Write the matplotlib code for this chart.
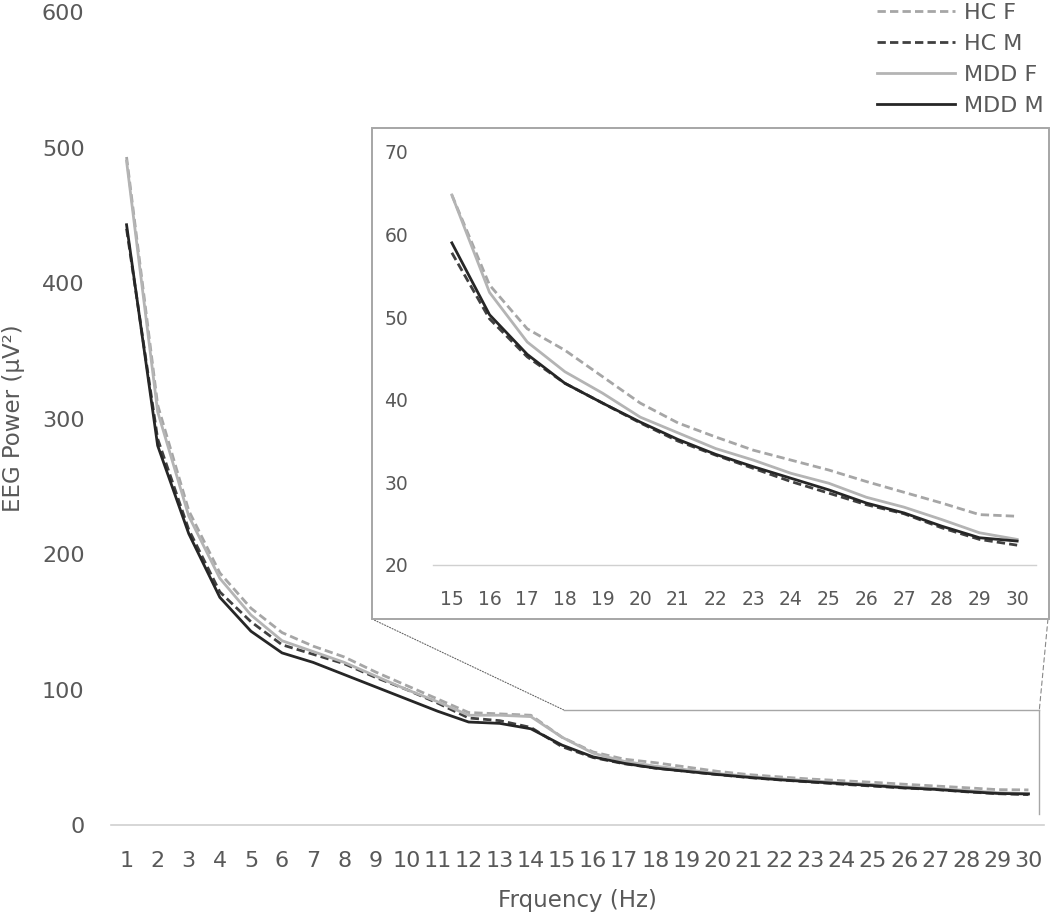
import matplotlib.pyplot as plt
from matplotlib.patches import Rectangle, ConnectionPatch

plt.rcParams["font.family"] = ["DejaVu Sans"]

W, H = 1050, 922
TXT = "#595959"

freq = list(range(1, 31))
hc_f = [493, 310, 232, 186, 160, 142, 132, 124, 113, 103, 93, 83, 82, 81,
        64.8, 53.9, 48.6, 46.0, 42.8, 39.6, 37.2, 35.5, 33.9, 32.7, 31.5,
        30.1, 28.8, 27.5, 26.1, 25.9]
hc_m = [440, 285, 218, 172, 150, 133, 126, 119, 109, 100, 90, 79, 77, 72,
        57.8, 49.8, 45.2, 42.0, 39.6, 37.2, 35.0, 33.3, 31.7, 30.1, 28.7,
        27.3, 26.2, 24.5, 23.1, 22.4]
mdd_f = [490, 305, 228, 182, 155, 136, 128, 120, 110, 100, 91, 81, 81, 80,
         64.8, 53.0, 47.0, 43.4, 40.8, 37.9, 36.0, 34.1, 32.7, 31.1, 29.9,
         28.2, 27.0, 25.5, 23.9, 23.1]
mdd_m = [443, 280, 215, 168, 143, 127, 120, 111, 102, 93, 84, 76, 75, 71,
         59.0, 50.3, 45.5, 42.0, 39.6, 37.3, 35.2, 33.4, 31.9, 30.5, 29.1,
         27.5, 26.3, 24.7, 23.3, 22.9]

series = [
    ("HC F", hc_f, "#a6a6a6", (0, (3, 1.5))),
    ("HC M", hc_m, "#404040", (0, (3, 1.5))),
    ("MDD F", mdd_f, "#b4b4b4", "-"),
    ("MDD M", mdd_m, "#262626", "-"),
]


def style_axes(ax, fs, pad):
    for s in ("top", "right", "left"):
        ax.spines[s].set_visible(False)
    ax.spines["bottom"].set_color("#d0d0d0")
    ax.spines["bottom"].set_linewidth(1.2)
    ax.tick_params(length=0, labelsize=fs, labelcolor=TXT, pad=pad)


fig = plt.figure(figsize=(W / 100, H / 100), dpi=100)

# main chart
ax = fig.add_axes([111 / W, (H - 825) / H, 933 / W, 813 / H])
handles = []
for name, vals, col, ls in series:
    (ln,) = ax.plot(freq, vals, color=col, ls=ls, lw=2.0, label=name)
    handles.append(ln)
ax.set_xlim(0.5, 30.5)
ax.set_ylim(0, 600)
ax.set_xticks(freq)
ax.set_yticks(range(0, 601, 100))
style_axes(ax, 16, 19)
ax.set_xlabel("Frquency (Hz)", fontsize=16.5, color=TXT, labelpad=13)
ax.set_ylabel("EEG Power (µV²)", fontsize=16.5, color=TXT, labelpad=12)

# zoom region marker on the main chart
zx0, zx1, zy0, zy1 = 15.05, 30.35, 8, 85
ax.plot([zx0, zx1], [zy1, zy1], color="#a6a6a6", lw=1)
ax.plot([zx1, zx1], [zy1, zy0], color="#a6a6a6", lw=1)

# inset frame
bx0, bx1, by_top, by_bot = 372, 1049, 128, 619
frame = Rectangle((bx0 / W, (H - by_bot) / H), (bx1 - bx0) / W,
                  (by_bot - by_top) / H, transform=fig.transFigure,
                  facecolor="white", edgecolor="#a6a6a6", lw=1.4, zorder=1.5)
fig.patches.append(frame)

con1 = ConnectionPatch(xyA=(bx0 / W, (H - by_bot) / H), coordsA=fig.transFigure,
                       xyB=(zx0, zy1), coordsB=ax.transData,
                       color="#666666", lw=0.8, ls=(0, (1, 1.5)))
con2 = ConnectionPatch(xyA=(bx1 / W - 0.001, (H - by_bot) / H), coordsA=fig.transFigure,
                       xyB=(zx1, zy1), coordsB=ax.transData,
                       color="#888888", lw=0.8, ls=(0, (4, 3)))
fig.add_artist(con1)
fig.add_artist(con2)

# inset chart
axi = fig.add_axes([433 / W, (H - 565) / H, 603 / W, 413 / H], zorder=2)
axi.patch.set_alpha(0)
for name, vals, col, ls in series:
    axi.plot(freq[14:], vals[14:], color=col, ls=ls, lw=2.0)
axi.set_xlim(14.5, 30.5)
axi.set_ylim(20, 70)
axi.set_xticks(freq[14:])
axi.set_yticks(range(20, 71, 10))
style_axes(axi, 13.5, 18)
axi.spines["bottom"].set_linewidth(1.0)

fig.legend(handles=handles, loc="upper left", bbox_to_anchor=(877 / W, 0.997),
           frameon=False, fontsize=16, labelcolor=TXT, handlelength=3.5,
           handletextpad=0.4, labelspacing=0.5, borderpad=0, borderaxespad=0)

fig.savefig("out.png", dpi=100)
